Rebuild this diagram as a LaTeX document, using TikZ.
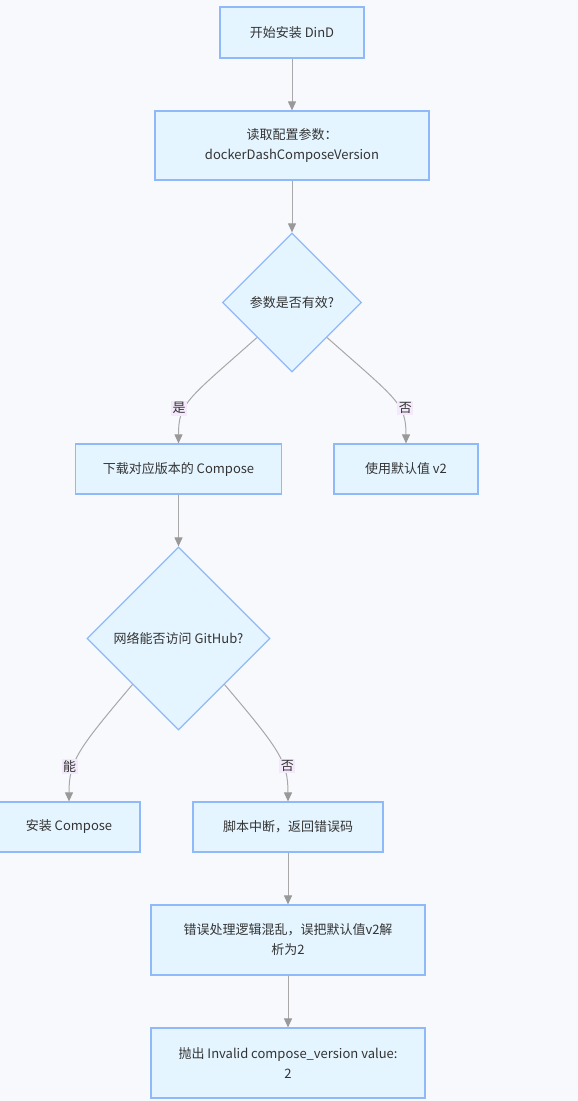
\documentclass[tikz,border=0pt]{standalone}
\usepackage{fontspec}
\setmainfont{Noto Sans CJK SC}
\usetikzlibrary{shapes.geometric,arrows.meta}
\definecolor{bgcol}{HTML}{F8F9FC}
\definecolor{boxfill}{HTML}{E5F5FF}
\definecolor{boxline}{HTML}{8FB9F9}
\definecolor{edgecol}{HTML}{A8A8A8}
\definecolor{tipcol}{HTML}{999999}
\definecolor{lblfill}{HTML}{F3E9FB}
\definecolor{txtcol}{HTML}{333333}
\tikzset{
  flowarrow/.style={-{Triangle[length=9pt,width=8pt,color=tipcol]}, draw=edgecol, line width=1pt},
  procbox/.style={draw=boxline, fill=boxfill, line width=1.2pt, minimum height=50pt, inner sep=0pt, align=center, text=txtcol},
  decide/.style={diamond, aspect=1, draw=boxline, fill=boxfill, line width=1.2pt, inner sep=0pt, align=center, text=txtcol},
  edgelabel/.style={fill=lblfill, text=txtcol, inner sep=1.5pt}
}
\begin{document}
\begin{tikzpicture}[x=1pt, y=-1pt, font=\fontsize{13}{20}\selectfont]
  \fill[bgcol] (0,0) rectangle (578,1101);
  \useasboundingbox (0,0) rectangle (578,1101);
  \node[procbox, minimum width=144pt, minimum height=51pt] (start) at (292,32.5) {开始安装 DinD};
  \node[procbox, minimum width=274pt, minimum height=69pt] (readcfg) at (292,145.5) {读取配置参数：\\dockerDashComposeVersion};
  \node[decide, minimum width=139pt, minimum height=139pt] (validq) at (292,302.5) {参数是否有效?};
  \node[procbox, minimum width=206pt] (fetch) at (178.5,469) {下载对应版本的 Compose};
  \node[procbox, minimum width=144pt] (usedef) at (406,469) {使用默认值 v2};
  \node[decide, minimum width=183pt, minimum height=183pt] (netq) at (178.5,638.5) {网络能否访问 GitHub?};
  \node[procbox, minimum width=142pt] (install) at (69,827) {安装 Compose};
  \node[procbox, minimum width=190pt] (abort) at (288,827) {脚本中断，返回错误码};
  \node[procbox, minimum width=274pt, minimum height=70pt] (misparse) at (288,940) {错误处理逻辑混乱，误把默认值v2解\\析为2};
  \node[procbox, minimum width=274pt, minimum height=70pt] (throwerr) at (288,1063) {抛出 Invalid compose\_version value:\\2};
  \draw[flowarrow] (start) -- (readcfg);
  \draw[flowarrow] (readcfg) -- (validq);
  \draw[flowarrow] (validq.south west) .. controls +(-70,62) and +(0,-40) .. node[edgelabel, pos=0.62, xshift=-6pt] {是} (fetch.north);
  \draw[flowarrow] (validq.south east) .. controls +(70,62) and +(0,-40) .. node[edgelabel, pos=0.62, xshift=6pt] {否} (usedef.north);
  \draw[flowarrow] (fetch) -- (netq);
  \draw[flowarrow] (netq.south west) .. controls +(-55,65) and +(0,-40) .. node[edgelabel, pos=0.65, xshift=-4pt] {能} (install.north);
  \draw[flowarrow] (netq.south east) .. controls +(55,65) and +(0,-40) .. node[edgelabel, pos=0.65, xshift=4pt] {否} (abort.north);
  \draw[flowarrow] (abort) -- (misparse);
  \draw[flowarrow] (misparse) -- (throwerr);
\end{tikzpicture}
\end{document}
